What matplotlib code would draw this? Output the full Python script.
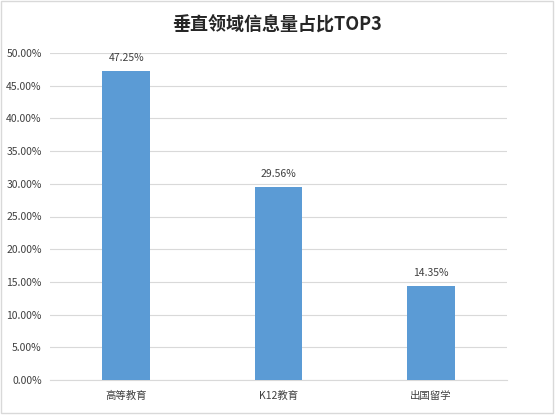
import matplotlib
matplotlib.use('Agg')
import matplotlib.pyplot as plt
from matplotlib.patches import Rectangle
from matplotlib.ticker import FuncFormatter

plt.rcParams['font.family'] = ['Noto Sans CJK SC', 'DejaVu Sans']

categories = ['高等教育', 'K12教育', '出国留学']
values = [47.25, 29.56, 14.35]
title = '垂直领域信息量占比TOP3'

fig = plt.figure(figsize=(5.55, 4.17), dpi=100)
ax = fig.add_axes([50/555, 37/417, 457/555, 327/417])

x = range(len(categories))
bars = ax.bar(x, values, width=0.315, color='#5B9BD5', zorder=3)
for b, v in zip(bars, values):
    ax.text(b.get_x() + b.get_width()/2, v + 1.2, '{0:.2f}%'.format(v),
            ha='center', va='bottom', fontsize=7.5, color='#404040')

ax.set_xlim(-0.5, 2.5)
ax.set_ylim(0, 50)
ax.set_yticks([i*5 for i in range(11)])
ax.yaxis.set_major_formatter(FuncFormatter(lambda v, p: '{0:.2f}%'.format(v)))
ax.set_xticks(list(x))
ax.set_xticklabels(categories)
ax.grid(axis='y', color='#D9D9D9', lw=0.8, zorder=0)
for s in ['top', 'right', 'left']:
    ax.spines[s].set_visible(False)
ax.spines['bottom'].set_color('#D9D9D9')
ax.tick_params(axis='both', length=0, labelsize=7.5, colors='#404040')
ax.tick_params(axis='x', pad=8)
ax.tick_params(axis='y', pad=6)

fig.text(277/555, 1 - 25/417, title, ha='center', va='center', fontsize=13,
         fontweight='bold', color='#262626')
fig.patches.append(Rectangle((0.5/555, 4/417), 552/555, 412/417, transform=fig.transFigure,
                             fill=False, edgecolor='#D9D9D9', lw=1))

fig.savefig('out.png', dpi=100)
